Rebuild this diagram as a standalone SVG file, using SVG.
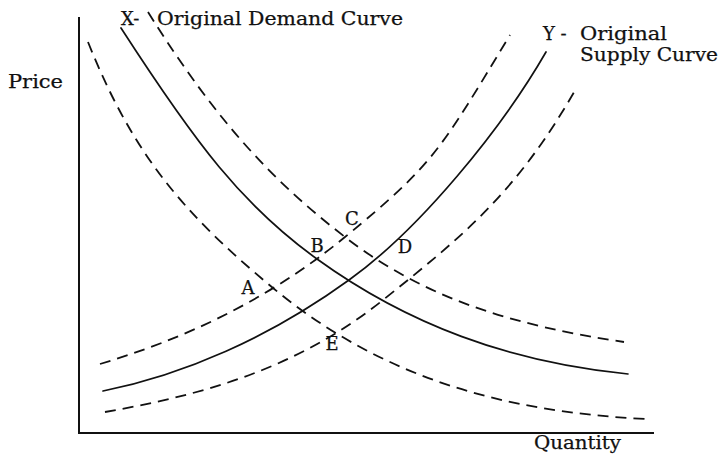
<svg xmlns="http://www.w3.org/2000/svg" width="722" height="454" viewBox="0 0 722 454">
<style>
text{font-family:"DejaVu Serif","Liberation Serif",serif;font-size:18px;fill:#111;stroke:#111;stroke-width:0.25}
.ax{stroke:#111;stroke-width:2;fill:none}
.solid{stroke:#111;stroke-width:1.7;fill:none;stroke-linecap:round}
.dash{stroke:#111;stroke-width:1.8;fill:none;stroke-dasharray:11 7}
</style>
<rect width="722" height="454" fill="#fff"/>
<g id="axes">
<path class="ax" d="M79,17 V433 H654"/>
<text x="8" y="88" textLength="55" lengthAdjust="spacingAndGlyphs">Price</text>
<text x="534" y="449" textLength="87" lengthAdjust="spacingAndGlyphs">Quantity</text>
</g>
<g id="connectors">
<path id="demand-original" class="solid" d="M121,28 C196,144 242,205 317,259 C407,324 508,362 628,374"/>
<path id="supply-original" class="solid" d="M103,391 C183,375 269,338 349,280 C419,230 501,130 546,52"/>
<path id="demand-high" class="dash" d="M148,12 C218,124 275,183 345,237 C425,299 514,325.5 624,342"/>
<path id="demand-low" class="dash" d="M88,42 C133,154.5 183,213.3 273,288 C383,379 506,412 646,419"/>
<path id="supply-high" class="dash" d="M100,364 C180,340 265,302.6 345,237 C435,163 440,150.5 510,35"/>
<path id="supply-low" class="dash" d="M105,412 C195,396 293,372 383,300 C463,236 517,192.6 577,87"/>
</g>
<g id="label-X"><text y="25"><tspan x="121">X-</tspan><tspan x="157" textLength="246" lengthAdjust="spacingAndGlyphs">Original Demand Curve</tspan></text></g>
<g id="label-Y"><text y="40"><tspan x="543">Y -</tspan><tspan x="580" textLength="87" lengthAdjust="spacingAndGlyphs">Original</tspan></text>
<text x="580" y="61" textLength="138" lengthAdjust="spacingAndGlyphs">Supply Curve</text></g>
<g id="point-A"><text x="248" y="294" text-anchor="middle">A</text></g>
<g id="point-B"><text x="317" y="252" text-anchor="middle">B</text></g>
<g id="point-C"><text x="352" y="225" text-anchor="middle">C</text></g>
<g id="point-D"><text x="405" y="253" text-anchor="middle">D</text></g>
<g id="point-E"><text x="332" y="350" text-anchor="middle">E</text></g>
</svg>
